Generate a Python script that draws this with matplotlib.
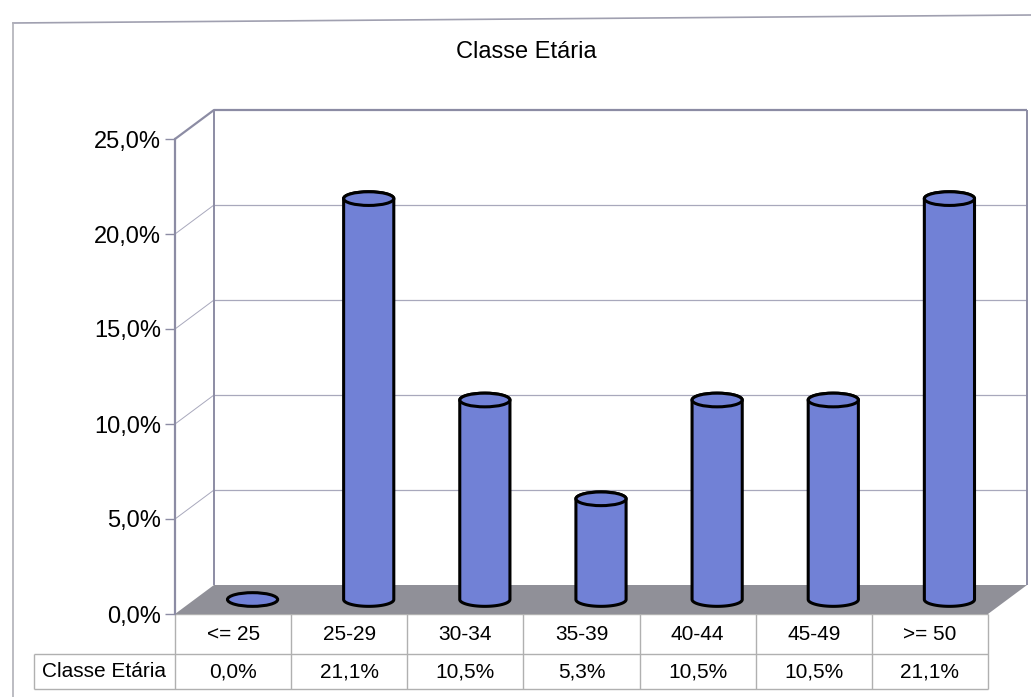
import numpy as np
import matplotlib
matplotlib.use("Agg")
import matplotlib.pyplot as plt
from matplotlib.patches import Ellipse, Polygon
from matplotlib.lines import Line2D

# ---- data -------------------------------------------------------------
categories = ["<= 25", "25-29", "30-34", "35-39", "40-44", "45-49", ">= 50"]
values = [0.0, 21.1, 10.5, 5.3, 10.5, 10.5, 21.1]          # percent
y_ticks = [0, 5, 10, 15, 20, 25]
series_name = "Classe Etária"
chart_title = "Classe Etária"


def pct(v):
    return f"{v:.1f}%".replace(".", ",")


# ---- figure / layout --------------------------------------------------
W, H = 1031, 697
plt.rcParams['font.family'] = ['Liberation Sans', 'DejaVu Sans']
fig = plt.figure(figsize=(W / 100, H / 100), dpi=100)
fig.patch.set_facecolor("white")

x_left, x_right = 175, 988      # front plane, pixels
y_zero, y_top = 614, 139
n = len(categories)
ax = fig.add_axes([x_left / W, 1 - y_zero / H,
                   (x_right - x_left) / W, (y_zero - y_top) / H])
ax.set_xlim(0, n)
ax.set_ylim(0, 25)
ax.patch.set_visible(False)

px_x = (x_right - x_left) / n
px_y = (y_zero - y_top) / 25
DX = 39 / px_x                  # depth offset in data units
DY = 29 / px_y

wall_col = "#8c8ca4"
grid_col = "#a8a8bc"
floor_col = "#909098"
bar_col = "#7181d6"
table_col = "#b0b0b0"

# axes / ticks
for s in ["top", "right", "bottom"]:
    ax.spines[s].set_visible(False)
ax.spines["left"].set_color(wall_col)
ax.spines["left"].set_linewidth(1.6)
ax.spines["left"].set_zorder(2)
ax.set_xticks([])
ax.set_yticks(y_ticks)
ax.set_yticklabels([pct(t) for t in y_ticks])
ax.tick_params(axis="y", length=7, width=1.0, color=wall_col, pad=3,
               labelsize=17, labelcolor="black")

# ---- walls & floor ----------------------------------------------------
def seg(xs, ys, **kw):
    ax.plot(xs, ys, clip_on=False, solid_capstyle="butt", **kw)

floor = Polygon([(0, 0), (n, 0), (n + DX, DY), (DX, DY)], closed=True,
                facecolor=floor_col, edgecolor="none", clip_on=False, zorder=1)
ax.add_patch(floor)

for t in y_ticks[1:-1]:
    seg([DX, n + DX], [t + DY, t + DY], color=grid_col, lw=0.9, zorder=0.5)
    seg([0, DX], [t, t + DY], color=grid_col, lw=0.7, zorder=0.5)
seg([0, DX, n + DX], [25, 25 + DY, 25 + DY], color=wall_col, lw=1.6, zorder=0.6)
seg([DX, DX], [DY, 25 + DY], color=wall_col, lw=1.4, zorder=0.6)
seg([n + DX, n + DX], [DY, 25 + DY], color=wall_col, lw=1.4, zorder=0.6)

# ---- cylinders --------------------------------------------------------
a = 0.216          # half width (category units)
b = 0.36           # half height of the ellipse (percent units)
t_low = np.linspace(np.pi, 2 * np.pi, 60)
t_up = np.linspace(0, np.pi, 60)
for i, v in enumerate(values):
    cx = i + 0.5 + DX / 2
    base = DY / 2
    top = base + v
    if v > 0:
        pts = [(cx - a, top)]
        pts += list(zip(cx + a * np.cos(t_low), base + b * np.sin(t_low)))
        pts += [(cx + a, top)]
        pts += list(zip(cx + a * np.cos(t_up), top + b * np.sin(t_up)))
        body = Polygon(pts, closed=True, facecolor=bar_col, edgecolor="black",
                       lw=2.2, joinstyle="round", clip_on=False, zorder=3)
        ax.add_patch(body)
    cap = Ellipse((cx, top), 2 * a, 2 * b, facecolor=bar_col,
                  edgecolor="black", lw=2.2, clip_on=False, zorder=4)
    ax.add_patch(cap)

# ---- data table -------------------------------------------------------
row1 = -(654 - y_zero) / px_y
row2 = -(689 - y_zero) / px_y
label_left = (34 - x_left) / px_x

seg([0, n], [0, 0], color=table_col, lw=1.0, zorder=0.4)
seg([label_left, n], [row1, row1], color=table_col, lw=1.0, zorder=2)
seg([label_left, n], [row2, row2], color=table_col, lw=1.0, zorder=2)
seg([label_left, label_left], [row1, row2], color=table_col, lw=1.0, zorder=2)
for k in range(n + 1):
    seg([k, k], [0, row2], color=table_col, lw=1.0, zorder=2)

for i, (c, v) in enumerate(zip(categories, values)):
    ax.text(i + 0.5, row1 / 2, c, ha="center", va="center", fontsize=15,
            clip_on=False)
    ax.text(i + 0.5, (row1 + row2) / 2, pct(v), ha="center", va="center",
            fontsize=15, clip_on=False)
ax.text(label_left / 2, (row1 + row2) / 2, series_name, ha="center",
        va="center", fontsize=15, clip_on=False)

# ---- title & chart border ---------------------------------------------
fig.text(526 / W, 1 - 52 / H, chart_title, ha="center", va="center",
         fontsize=17)
fig.add_artist(Line2D([13 / W, 1.0], [1 - 23 / H, 1 - 15 / H],
                      color="#a0a0b0", lw=1.2, transform=fig.transFigure))
fig.add_artist(Line2D([13 / W, 13 / W], [1 - 23 / H, 0.0],
                      color="#b0b0b8", lw=1.2, transform=fig.transFigure))

fig.savefig("out.png", dpi=100)
